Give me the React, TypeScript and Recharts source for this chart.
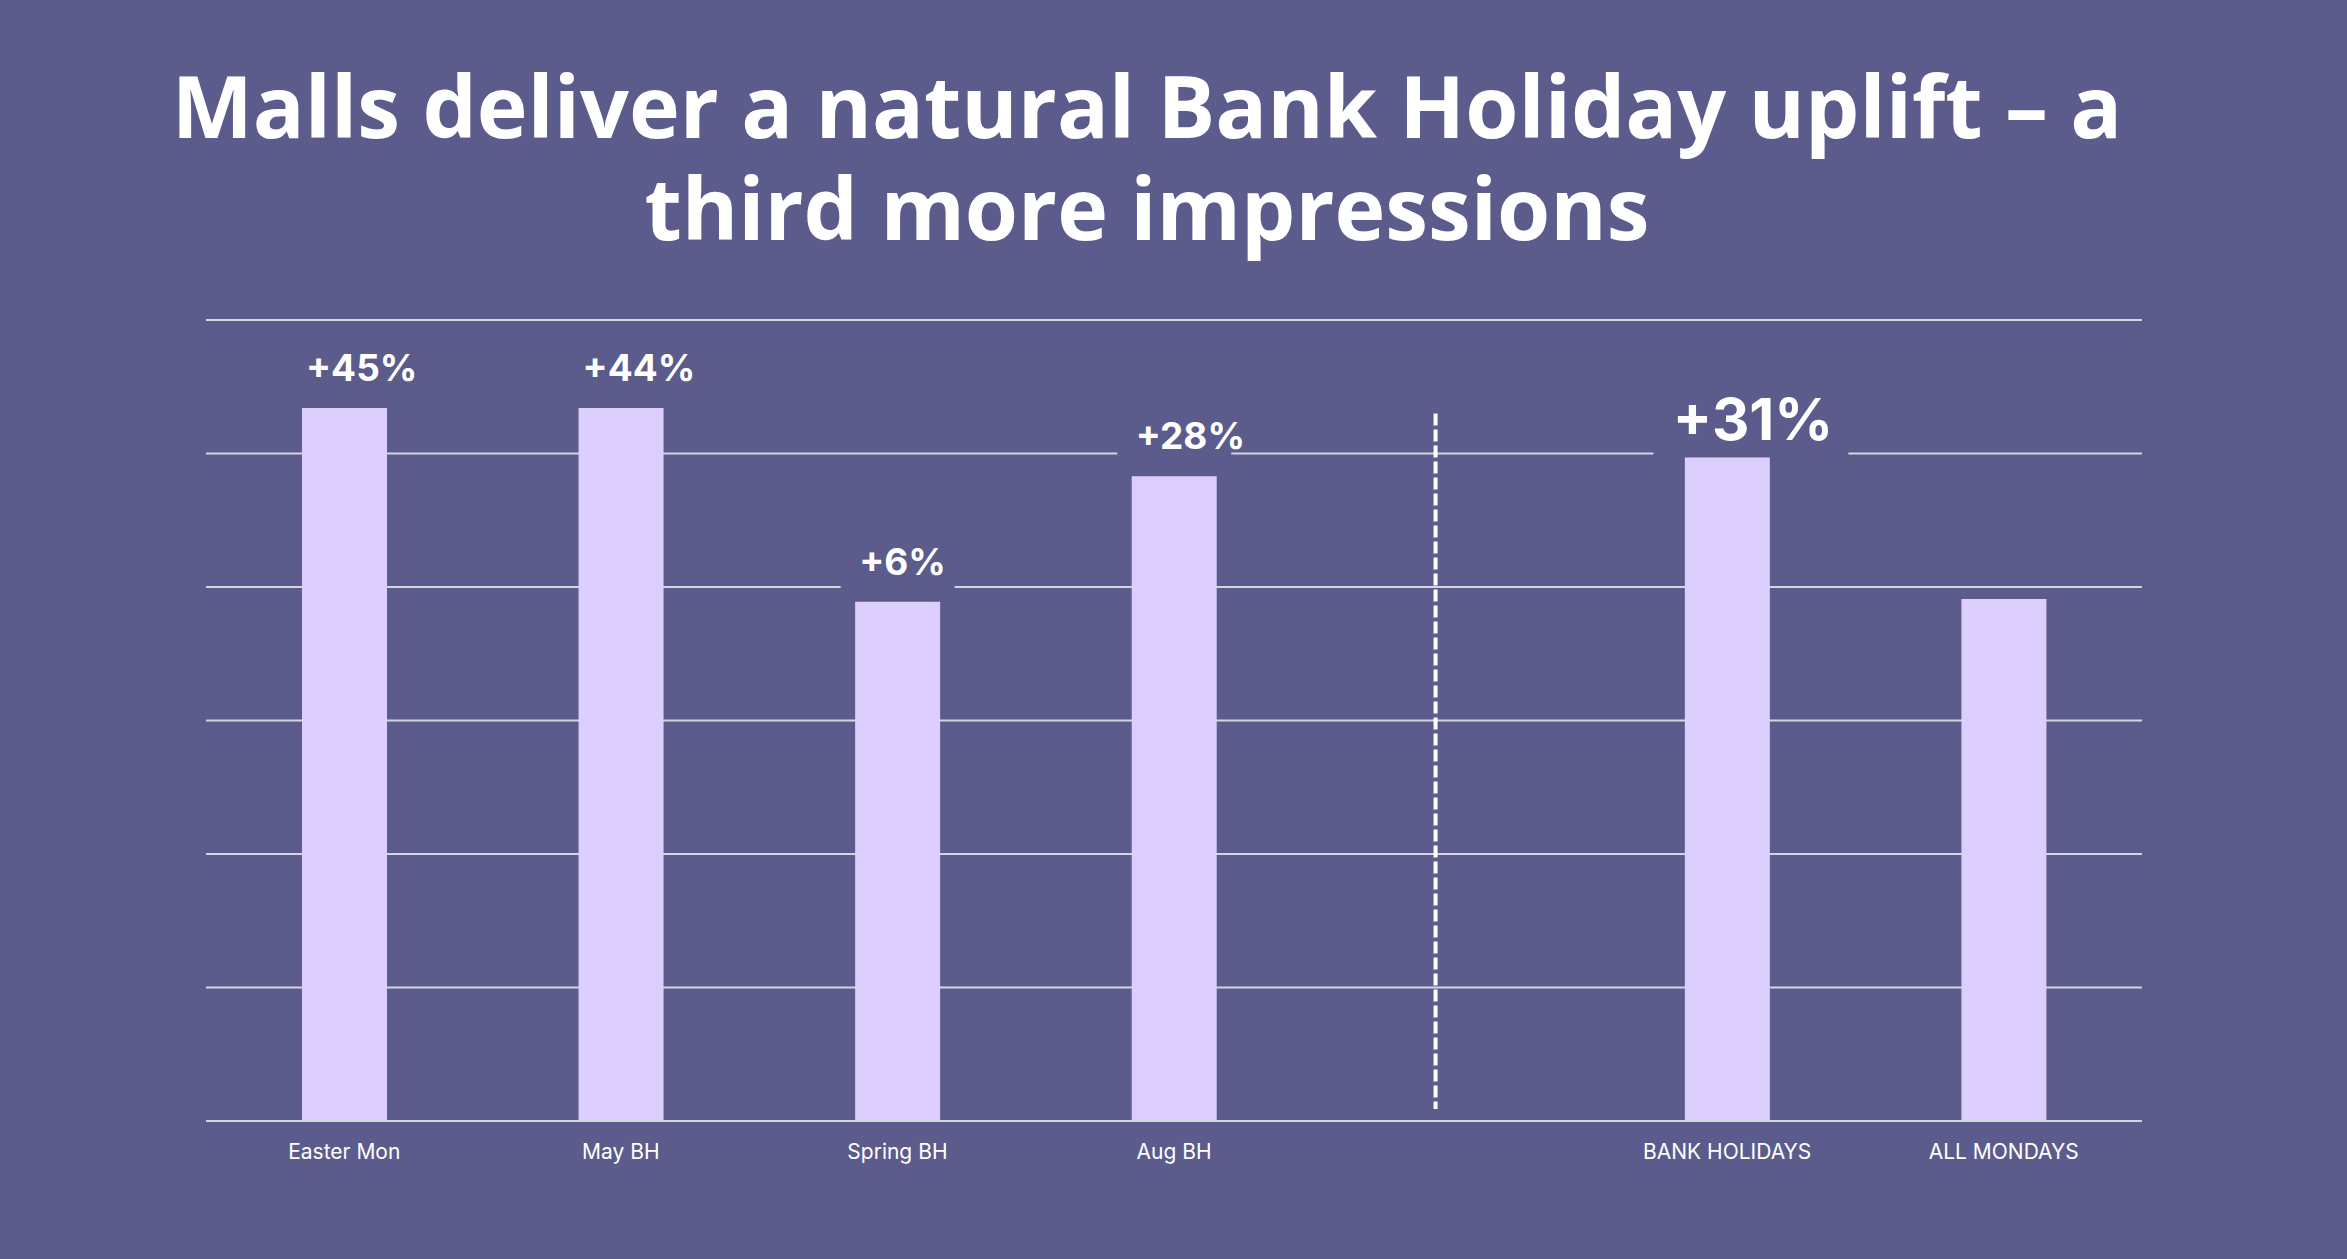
import React from 'react';
import {
  BarChart,
  Bar,
  XAxis,
  YAxis,
  CartesianGrid,
  ReferenceLine,
  LabelList
} from 'recharts';

// Bank holiday Mondays vs average, mall impressions (gridline units)
const categories = ['Easter Mon', 'May BH', 'Spring BH', 'Aug BH', '', 'BANK HOLIDAYS', 'ALL MONDAYS'];
const impressions = [5.34, 5.34, 3.89, 4.83, null, 4.97, 3.91];
const upliftLabels = ['+45%', '+44%', '+6%', '+28%', '', '+31%', ''];
const yTicks = [0, 1, 2, 3, 4, 5, 6];
const dividerRange = [5.3, 0.09];
const headlineLabel = '+31%';

const titleLines = ['Malls deliver a natural Bank Holiday uplift – a', 'third more impressions'];

const BG = '#5b5c8c';
const BAR = '#dccffd';
const GRID = '#d5d5dd';

const data = categories.map((name, i) => ({
  name,
  value: impressions[i],
  label: upliftLabels[i]
}));

const UpliftLabel = (props: any) => {
  const { x, y, width, value } = props;
  if (!value) return null;
  const big = value === headlineLabel;
  const fontSize = big ? 58 : 37;
  const textX = big ? x - 12 : x + 4;
  const textW = big ? 156 : 0;
  const boxW = big ? 195 : 114;
  const boxCx = big ? textX + textW / 2 : x + width / 2;
  return (
    <g>
      <rect x={boxCx - boxW / 2} y={y - 78} width={boxW} height={76} fill={BG} />
      <text
        x={textX}
        y={y - (big ? 18 : 27)}
        fill="#ffffff"
        fontFamily="Inter, sans-serif"
        fontWeight={700}
        fontSize={fontSize}
        textAnchor="start"
      >
        {value}
      </text>
    </g>
  );
};

const CategoryTick = (props: any) => {
  const { x, y, payload } = props;
  if (!payload.value) return null;
  return (
    <text
      x={x}
      y={y + 38}
      fill="#ffffff"
      fontFamily="Inter, sans-serif"
      fontSize={21}
      textAnchor="middle"
    >
      {payload.value}
    </text>
  );
};

const Divider = (props: any) => {
  const { x1, y1, x2, y2 } = props;
  return (
    <line
      x1={x1 - 15}
      y1={y1}
      x2={x2 - 15}
      y2={y2}
      stroke="#ffffff"
      strokeWidth={4}
      strokeDasharray="12 4"
    />
  );
};

export default function App() {
  return (
    <div
      style={{
        position: 'absolute',
        left: 0,
        top: 0,
        width: 2347,
        height: 1259,
        background: BG,
        overflow: 'hidden'
      }}
    >
      <div
        style={{
          position: 'absolute',
          left: 0,
          top: 54,
          width: 2294,
          textAlign: 'center',
          color: '#ffffff',
          fontFamily: "'Open Sans', sans-serif",
          fontWeight: 700,
          fontSize: 86,
          lineHeight: '102px',
          margin: 0
        }}
      >
        {titleLines[0]}
        <br />
        {titleLines[1]}
      </div>
      <div style={{ position: 'absolute', left: 0, top: 0 }}>
        <BarChart
          width={2347}
          height={1259}
          data={data}
          margin={{ top: 320, right: 205, bottom: 108, left: 206 }}
        >
          <CartesianGrid vertical={false} stroke={GRID} strokeWidth={2} />
          <YAxis hide domain={[0, 6]} ticks={yTicks} />
          <XAxis
            dataKey="name"
            interval={0}
            tickLine={false}
            tickSize={0}
            tickMargin={0}
            axisLine={{ stroke: GRID, strokeWidth: 2 }}
            tick={<CategoryTick />}
          />
          <ReferenceLine
            segment={[
              { x: '', y: dividerRange[0] },
              { x: '', y: dividerRange[1] }
            ]}
            shape={<Divider />}
          />
          <Bar dataKey="value" fill={BAR} barSize={85} isAnimationActive={false}>
            <LabelList dataKey="label" content={<UpliftLabel />} />
          </Bar>
        </BarChart>
      </div>
    </div>
  );
}
